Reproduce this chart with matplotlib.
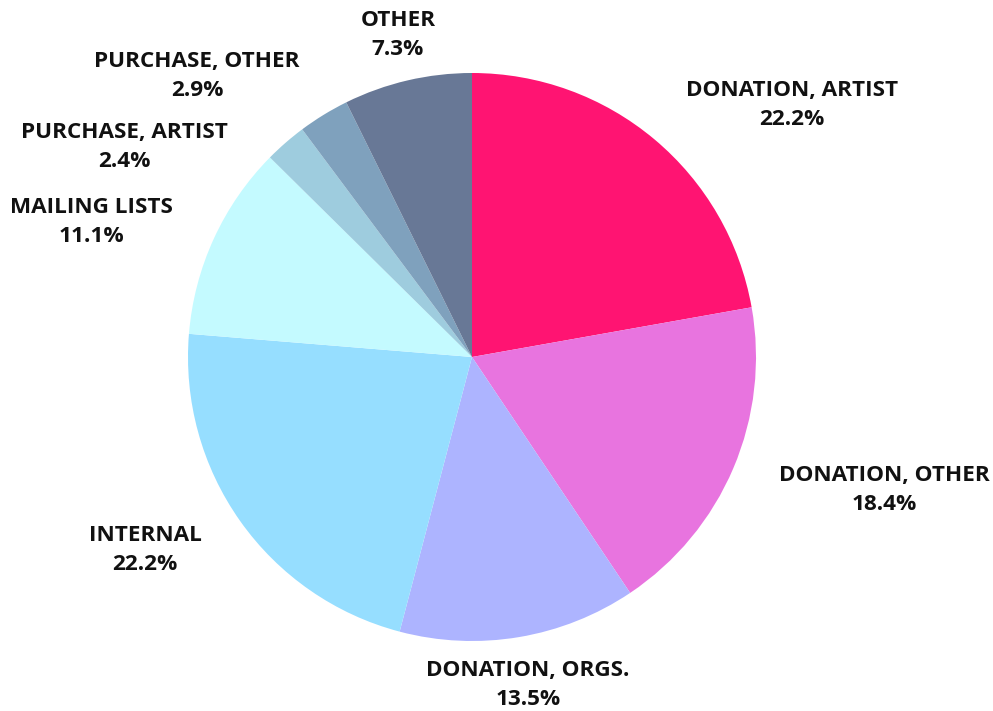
import matplotlib
matplotlib.use('Agg')
import matplotlib.pyplot as plt

# data
labels = ['DONATION, ARTIST', 'DONATION, OTHER', 'DONATION, ORGS.', 'INTERNAL',
          'MAILING LISTS', 'PURCHASE, ARTIST', 'PURCHASE, OTHER', 'OTHER']
shares = [22.2, 18.4, 13.5, 22.2, 11.1, 2.4, 2.9, 7.3]
colors = ['#ff1472', '#e874df', '#adb4ff', '#96deff',
          '#c4faff', '#9eccde', '#7fa1bd', '#687896']

# label centres, in pixels from the top-left corner of the figure
label_xy = [(792, 105), (884, 490), (528, 685), (145, 550),
            (91, 222), (124, 147), (197, 76), (398, 35)]

W, H = 993, 711
cx, cy = 472, 357
R = 284

plt.rcParams['font.family'] = ['Open Sans', 'DejaVu Sans']

fig = plt.figure(figsize=(W / 100, H / 100), dpi=100)
ax = fig.add_axes([0, 0, 1, 1])
ax.pie(shares, colors=colors, startangle=90, counterclock=False,
       radius=R, center=(cx, H - cy), wedgeprops=dict(linewidth=0))
ax.set_xlim(0, W)
ax.set_ylim(0, H)
ax.set_aspect('equal')
ax.axis('off')

for lab, val, (x, y) in zip(labels, shares, label_xy):
    ax.text(x, H - y, f'{lab}\n{val:.1f}%', ha='center', va='center',
            fontsize=16.2, fontweight='bold', color='#111111', linespacing=1.52)

fig.savefig('out.png', dpi=100)
